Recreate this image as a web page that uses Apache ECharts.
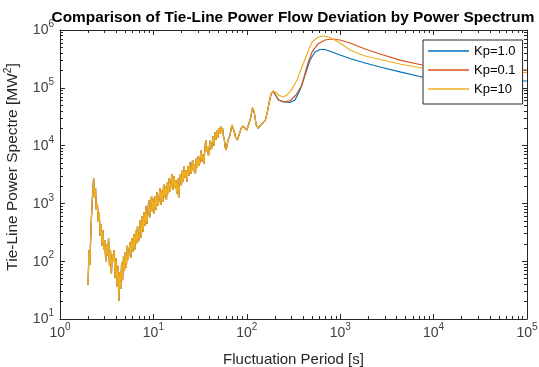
<!DOCTYPE html>
<html>
<head>
<meta charset="utf-8">
<script src="https://cdn.jsdelivr.net/npm/echarts@6/dist/echarts.min.js"></script>
<style>
  html, body { margin: 0; padding: 0; background: #fff; }
  #main { width: 539px; height: 367px; }
</style>
</head>
<body>
<div id="main"></div>
<script>
// shared part (all three curves lie on top of each other here)
var periodShared = [2.00,2.04,2.09,2.14,2.19,2.24,2.29,2.34,2.40,2.45,2.51,2.57,2.63,2.69,2.75,2.82,2.88,2.95,3.02,3.09,
  3.16,3.24,3.31,3.39,3.47,3.55,3.63,3.72,3.80,3.89,3.98,4.07,4.17,4.27,4.37,4.47,4.57,4.68,4.79,4.90,
  5.01,5.13,5.25,5.37,5.50,5.62,5.75,5.89,6.03,6.17,6.31,6.46,6.61,6.76,6.92,7.08,7.24,7.41,7.59,7.76,
  7.94,8.13,8.32,8.51,8.71,8.91,9.12,9.33,9.55,9.77,10.0,
  10.23,10.47,10.72,10.96,11.22,11.48,11.75,12.02,12.30,12.59,
  12.88,13.18,13.49,13.80,14.13,14.45,14.79,15.14,15.49,15.85,
  16.22,16.60,16.98,17.38,17.78,18.20,18.62,19.05,19.50,19.95,
  20.42,20.89,21.38,21.88,22.39,22.91,23.44,23.99,24.55,25.12,
  25.70,26.30,26.92,27.54,28.18,28.84,29.51,30.20,30.90,31.62,
  32.36,33.11,33.88,34.67,35.48,36.31,37.15,38.02,38.90,39.81,
  40.74,41.69,42.66,43.65,44.67,45.71,46.77,47.86,48.98,50.12,
  51.29,52.48,53.70,54.95,56.23,57.54,58.88,60.26,61.66,63.10,
  66.1,69.2,72.4,75.9,79.4,83.2,87.1,91.2,95.5,100,105,110,115,120,126,132,138,145,151,158,166,174,182,191];
var psdShared = [38.7,156,86,320,769,1575,2750,1240,1846,769,1016,476,710,273,440,184,347,156,233,97,
  199,123,252,83,156,60,133,97,156,51,114,37,83,20.5,65,33,97,47,123,68,
  144,76,184,105,156,215,114,252,144,296,156,347,199,406,215,273,516,252,605,320,
  710,406,901,440,656,1145,559,976,1343,710,1240,
  656,1343,769,1575,901,1145,1847,938,1705,1057,
  2167,1241,2000,1145,2346,1454,2750,1575,2540,3229,
  1705,2978,1847,2540,1454,2750,1241,2167,3229,2000,
  3785,2346,4440,2750,3785,2346,4440,2978,5200,3229,
  4100,5630,3495,4802,3229,6097,4100,6602,4440,5630,
  8390,5200,7157,4802,8390,12500,7748,9841,6602,9088,
  12500,8390,10660,14650,9841,17180,12500,18600,13530,20150,
  15870,21810,17180,20150,14650,12500,9088,8390,10660,12500,
  15240,22700,18600,14100,12500,15900,20100,21800,21000,18600,20100,30100,44800,38100,22700,20100,21800,23700,25600,27700,
  38100,56800,78200,88100];

// tails, where the curves split
var periodKp1 = [200,209,219,229,256,290,328,371,420,475,537,608,687,817,995,1273,1844,2670,4370,7520,15000,40200,100000];
var psdKp1 = [84600,69300,61500,57900,56800,55700,61500,91600,166000,302000,416000,460000,460000,416000,369000,321000,269000,229000,188000,154000,142000,136000,131000];

var periodKp01 = [200,209,219,244,290,336,390,441,499,579,687,817,995,1273,1844,2670,4370,7520,15000,40200,100000];
var psdKp01 = [84600,69300,61500,56800,59200,75000,111700,238000,416000,573000,671000,698000,671000,596000,469000,384000,302000,248000,229000,211000,203000];

var periodKp10 = [200,209,219,244,269,305,345,390,441,499,579,671,778,995,1273,1844,2670,4370,7520,15000,40200,100000];
var psdKp10 = [88100,81300,75000,69300,75000,95300,136400,229000,384000,620000,757000,788000,742000,596000,450000,355000,309000,258000,220000,203000,191000,184000];

var seriesNames = ['Kp=1.0', 'Kp=0.1', 'Kp=10'];
var colors = ['#0072BD', '#D95319', '#EDB120'];

function pairs(xs, ys) {
  var out = [];
  for (var i = 0; i < xs.length; i++) out.push([xs[i], ys[i]]);
  return out;
}
var shared = pairs(periodShared, psdShared);
var dataKp1 = shared.concat(pairs(periodKp1, psdKp1));
var dataKp01 = shared.concat(pairs(periodKp01, psdKp01));
var dataKp10 = shared.concat(pairs(periodKp10, psdKp10));

// minor tick spots (2..9 of each decade), in log10 units for the helper axes
function minorTicks(d0, d1) {
  var t = [];
  for (var d = d0; d < d1; d++)
    for (var k = 2; k <= 9; k++) t.push(d + Math.log10(k));
  return t;
}

var FONT = 'Liberation Sans, Arial, Helvetica, sans-serif';
var AX = '#262626';
var TXT = '#404040';

function powLabel(v) {
  return '{b|10}{s|' + Math.round(Math.log10(v)) + '}';
}
var labelRich = {
  b: { fontSize: 14, color: TXT, fontFamily: FONT, verticalAlign: 'bottom', lineHeight: 15 },
  s: { fontSize: 10, color: TXT, fontFamily: FONT, verticalAlign: 'bottom', lineHeight: 10, padding: [0, 0, 8, 0] }
};

function majorAxis(pos, min, max, labels, extra) {
  var a = {
    type: 'log', logBase: 10, min: min, max: max, splitNumber: 5, position: pos,
    axisLine: { show: true, lineStyle: { color: AX, width: 1 } },
    axisTick: { show: true, inside: true, length: 5, lineStyle: { color: AX, width: 1 } },
    axisLabel: labels ? { show: true, formatter: powLabel, rich: labelRich, margin: 6 } : { show: false },
    splitLine: { show: false }
  };
  for (var k in extra) a[k] = extra[k];
  return a;
}
function minorAxis(pos, min, max) {
  return {
    type: 'value', min: min, max: max, position: pos,
    axisLine: { show: false },
    axisTick: { show: true, inside: true, length: 3, customValues: minorTicks(min, max), lineStyle: { color: AX, width: 1 } },
    axisLabel: { show: false },
    splitLine: { show: false }
  };
}

var option = {
  animation: false,
  backgroundColor: '#fff',
  title: {
    text: 'Comparison of Tie-Line Power Flow Deviation by Power Spectrum',
    left: 288, top: 5, textAlign: 'center',
    textStyle: { fontSize: 15.4, fontWeight: 'bold', color: '#000', fontFamily: FONT }
  },
  legend: {
    data: seriesNames,
    orient: 'vertical',
    left: 423, top: 40,
    padding: [4, 7, 8, 5],
    icon: 'rect',
    itemWidth: 41, itemHeight: 1.4, itemGap: 5, itemTextGap: 4,
    backgroundColor: '#fff',
    borderColor: AX, borderWidth: 1, borderRadius: 0,
    textStyle: { fontSize: 13, color: '#000', fontFamily: FONT, lineHeight: 14 }
  },
  grid: { left: 60, right: 12, top: 30, bottom: 48, containLabel: false, outerBoundsMode: 'none' },
  xAxis: [
    majorAxis('bottom', 1, 100000, true, {
      name: 'Fluctuation Period [s]', nameLocation: 'middle', nameGap: 33,
      nameTextStyle: { fontSize: 15, color: AX, fontFamily: FONT }
    }),
    minorAxis('bottom', 0, 5),
    majorAxis('top', 1, 100000, false, {}),
    minorAxis('top', 0, 5)
  ],
  yAxis: [
    majorAxis('left', 10, 1000000, true, {
      name: 'Tie-Line Power Spectre [MW{s|2}]', nameLocation: 'middle', nameGap: 38,
      nameTextStyle: {
        fontSize: 15.5, color: AX, fontFamily: FONT, padding: [0, 0, 0, 15],
        rich: { s: { fontSize: 10, color: AX, fontFamily: FONT, padding: [0, 0, 9, 0] } }
      }
    }),
    minorAxis('left', 1, 6),
    majorAxis('right', 10, 1000000, false, {}),
    minorAxis('right', 1, 6)
  ],
  series: [
    { name: seriesNames[0], type: 'line', data: dataKp1, xAxisIndex: 0, yAxisIndex: 0,
      symbol: 'none', lineStyle: { color: colors[0], width: 1.2 }, itemStyle: { color: colors[0] } },
    { name: seriesNames[1], type: 'line', data: dataKp01, xAxisIndex: 0, yAxisIndex: 0,
      symbol: 'none', lineStyle: { color: colors[1], width: 1.2 }, itemStyle: { color: colors[1] } },
    { name: seriesNames[2], type: 'line', data: dataKp10, xAxisIndex: 0, yAxisIndex: 0,
      symbol: 'none', lineStyle: { color: colors[2], width: 1.2 }, itemStyle: { color: colors[2] } }
  ]
};

var myChart = echarts.init(document.getElementById('main'));
myChart.setOption(option);
</script>
</body>
</html>
